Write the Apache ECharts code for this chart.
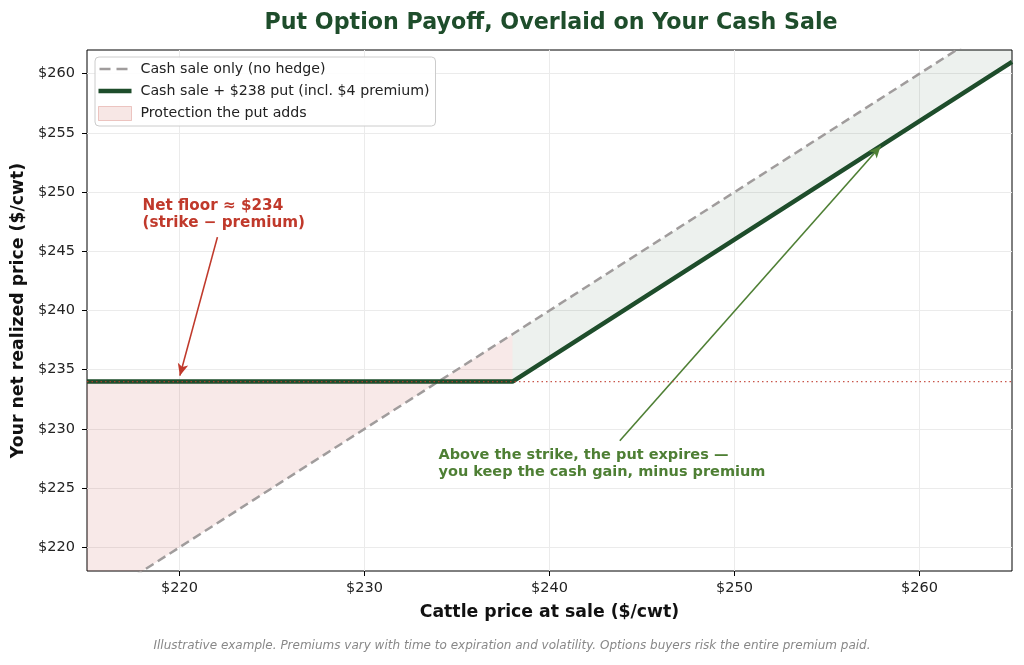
<!DOCTYPE html>
<html>
<head>
<meta charset="utf-8">
<script src="https://cdn.jsdelivr.net/npm/echarts@6/dist/echarts.min.js"></script>
<style>
  html, body { margin: 0; padding: 0; background: #fff; }
  #chart { width: 1024px; height: 665px; }
</style>
</head>
<body>
<div id="chart"></div>
<script>
// values
const priceX = [215, 234, 238, 265];
const cashSale = [215, 234, 238, 265];
const withPut = [234, 234, 234, 261];
const strike = 238;
const netFloor = 234;
const xTicks = [220, 230, 240, 250, 260];
const yTicks = [220, 225, 230, 235, 240, 245, 250, 255, 260];

const FONT = '"DejaVu Sans", sans-serif';
const GREEN = '#1e4d2b';
const RED = '#c0392b';
const ANNO_GREEN = '#4e7f34';
const GRAY = '#a09c9c';

const pairs = (ys) => priceX.map((x, i) => [x, ys[i]]);

// band rows: [x, cash, withPut], split at the strike
const pinkBand = [], greenBand = [];
priceX.forEach((x, i) => {
  const row = [x, cashSale[i], withPut[i]];
  if (x <= strike) pinkBand.push(row);
  if (x >= strike) greenBand.push(row);
});

// one polygon between the two lines for a band
function bandRenderer(rows, fill) {
  return function (params, api) {
    if (params.dataIndex !== 0) return null;
    const top = rows.map(r => api.coord([r[0], r[1]]));
    const bot = rows.slice().reverse().map(r => api.coord([r[0], r[2]]));
    return {
      type: 'polygon',
      shape: { points: top.concat(bot) },
      style: { fill: fill },
      silent: true,
    };
  };
}

// legend glyphs (the M points pin the box to 33x14 so the bars keep their thickness)
const ICON_BOX = 'M0,0M33,14';
const dashIcon = 'path://' + ICON_BOX + 'M1,5.8h11v2.5h-11zM18,5.8h11v2.5h-11z';
const solidIcon = 'path://' + ICON_BOX + 'M0,4.8h33v4.5h-33z';

const chart = echarts.init(document.getElementById('chart'), null, { renderer: 'canvas' });

const axisText = { color: '#222', fontSize: 14.5, fontFamily: FONT };
const nameText = { color: '#111', fontSize: 17.3, fontWeight: 'bold', fontFamily: FONT };

const option = {
  backgroundColor: '#fff',
  animation: false,
  title: {
    text: 'Put Option Payoff, Overlaid on Your Cash Sale',
    left: 546, top: 7, textAlign: 'center',
    textStyle: { color: GREEN, fontSize: 22.2, fontWeight: 'bold', fontFamily: FONT },
  },
  grid: {
    left: 87, right: 12, top: 50, bottom: 94,
    show: true, borderColor: '#000', borderWidth: 1,
  },
  legend: {
    orient: 'vertical', left: 95, top: 57,
    backgroundColor: 'rgba(255,255,255,0.9)',
    borderColor: '#ccc', borderWidth: 1, borderRadius: 4,
    padding: [5, 6, 5, 3], itemGap: 8,
    itemWidth: 33, itemHeight: 14,
    textStyle: { color: '#222', fontSize: 14.2, fontFamily: FONT, padding: [0, 0, 0, 4] },
    data: [
      { name: 'Cash sale only (no hedge)', icon: dashIcon, itemStyle: { color: GRAY, borderWidth: 0 } },
      { name: 'Cash sale + $238 put (incl. $4 premium)', icon: solidIcon, itemStyle: { color: GREEN, borderWidth: 0 } },
      { name: 'Protection the put adds', icon: 'rect',
        itemStyle: { color: 'rgba(192,57,43,0.12)', borderColor: 'rgba(192,57,43,0.25)', borderWidth: 1 } },
    ],
  },
  xAxis: {
    type: 'value', min: 215, max: 265,
    name: 'Cattle price at sale ($/cwt)', nameLocation: 'middle', nameGap: 33,
    nameTextStyle: nameText,
    axisLine: { show: false },
    axisTick: { show: true, customValues: xTicks, length: 5, lineStyle: { color: '#000' } },
    axisLabel: { customValues: xTicks, formatter: v => '$' + v, margin: 10, ...axisText },
    splitLine: { show: true, lineStyle: { color: '#ebebeb', width: 1 } },
  },
  yAxis: {
    type: 'value', min: 218, max: 262,
    name: 'Your net realized price ($/cwt)', nameLocation: 'middle', nameGap: 60,
    nameTextStyle: nameText,
    axisLine: { show: false },
    axisTick: { show: true, customValues: yTicks, length: 5, lineStyle: { color: '#000' } },
    axisLabel: { customValues: yTicks, formatter: v => '$' + v, margin: 12, ...axisText },
    splitLine: { show: true, lineStyle: { color: '#ebebeb', width: 1 } },
  },
  series: [
    { name: 'Protection the put adds', type: 'custom', data: pinkBand, clip: true, z: 1,
      color: 'rgba(192,57,43,0.12)',
      renderItem: bandRenderer(pinkBand, 'rgba(192,57,43,0.11)') },
    { name: 'Gain band', type: 'custom', data: greenBand, clip: true, z: 1,
      renderItem: bandRenderer(greenBand, 'rgba(30,77,43,0.08)') },
    { name: 'Cash sale only (no hedge)', type: 'line', data: pairs(cashSale), symbol: 'none',
      color: GRAY,
      lineStyle: { color: GRAY, width: 2.5, type: [9, 5] }, z: 3 },
    { name: 'Cash sale + $238 put (incl. $4 premium)', type: 'line', data: pairs(withPut), symbol: 'none',
      color: GREEN,
      lineStyle: { color: GREEN, width: 4.5 }, z: 4,
      markLine: {
        silent: true, symbol: ['none', 'arrow'], symbolSize: [8, 12],
        label: { show: false },
        data: [
          [{ coord: [222.05, 246.2], lineStyle: { color: RED, width: 1.6, type: 'solid' } },
           { coord: [220.02, 234.5] }],
          [{ coord: [243.8, 229.0], lineStyle: { color: ANNO_GREEN, width: 1.6, type: 'solid' } },
           { coord: [257.9, 253.9] }],
        ],
      },
    },
    { name: 'floor', type: 'line', data: [[215, netFloor], [265, netFloor]], symbol: 'none',
      lineStyle: { color: 'rgba(192,57,43,0.85)', width: 1.2, type: [1.5, 3] }, silent: true, z: 5 },
  ],
};

chart.setOption(option);

// text annotations anchored to data coordinates
const p1 = chart.convertToPixel({ gridIndex: 0 }, [218.0, 249.5]);
const p2 = chart.convertToPixel({ gridIndex: 0 }, [234.0, 228.5]);
chart.setOption({
  graphic: [
    { type: 'text', left: p1[0], top: p1[1], z: 10,
      style: { text: 'Net floor ≈ $234\n(strike − premium)', fill: RED,
        font: 'bold 15.2px ' + FONT, lineHeight: 17 } },
    { type: 'text', left: p2[0], top: p2[1], z: 10,
      style: { text: 'Above the strike, the put expires —\nyou keep the cash gain, minus premium', fill: ANNO_GREEN,
        font: 'bold 14.5px ' + FONT, lineHeight: 17 } },
    { type: 'text', left: 'center', top: 640, z: 10,
      style: { text: 'Illustrative example. Premiums vary with time to expiration and volatility. Options buyers risk the entire premium paid.',
        fill: '#888', font: 'italic 12px ' + FONT } },
  ],
});
</script>
</body>
</html>
